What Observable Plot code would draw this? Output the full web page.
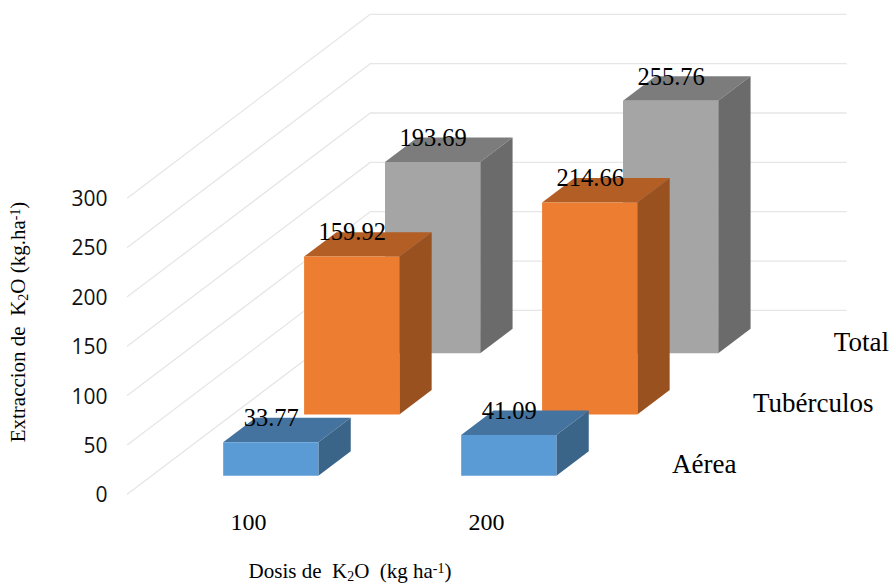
<!DOCTYPE html>
<html>
<head>
<meta charset="utf-8">
<script src="https://cdn.jsdelivr.net/npm/d3@7"></script>
<script src="https://cdn.jsdelivr.net/npm/@observablehq/plot@0.6"></script>
<style>html,body{margin:0;padding:0;background:#fff}svg{display:block}</style>
</head>
<body>
<div id="chart"></div>
<script>
// Data
const doses = ["100", "200"];
const seriesNames = ["Aérea", "Tubérculos", "Total"];
const aerea = [33.77, 41.09];
const tuberculos = [159.92, 214.66];
const total = [193.69, 255.76];
const valueTicks = [0, 50, 100, 150, 200, 250, 300];
const yTitle = "Extraccion de  K2O (kg.ha-1)";
const xTitle = "Dosis de  K2O  (kg ha-1)";

// Colours per series: front, top, side
const frontColors = ["#5b9bd5", "#ed7d31", "#a5a5a5"];
const topColors = ["#44739f", "#b25e25", "#7c7c7c"];
const sideColors = ["#3b6489", "#9a5120", "#6b6b6b"];

// Oblique projection: depth (series slots) shifts x in category units and y in value units
const depthX = 0.34, depthY = 62;
const slotCount = seriesNames.length, catCount = doses.length;
const barGap = 0.3, barSize = 0.4;
const X = (c, s) => c + s * depthX;
const Y = (v, s) => v + s * depthY;

const values = [aerea, tuberculos, total];
const faces = [];
for (let s = slotCount - 1; s >= 0; s--) {
  for (let c = 0; c < catCount; c++) {
    const v = values[s][c];
    const c0 = c + barGap, c1 = c0 + barSize, s0 = s + barGap, s1 = s0 + barSize;
    const add = (name, color, pts) => pts.forEach(([cc, ss, vv]) =>
      faces.push({id: `${s}-${c}-${name}`, color, x: X(cc, ss), y: Y(vv, ss)}));
    add("top", topColors[s], [[c0, s0, v], [c1, s0, v], [c1, s1, v], [c0, s1, v]]);
    add("side", sideColors[s], [[c1, s0, 0], [c1, s1, 0], [c1, s1, v], [c1, s0, v]]);
    add("front", frontColors[s], [[c0, s0, 0], [c1, s0, 0], [c1, s0, v], [c0, s0, v]]);
  }
}
const grid = valueTicks.flatMap(v => [
  {v, x: X(0, 0), y: Y(v, 0)},
  {v, x: X(0, slotCount), y: Y(v, slotCount)},
  {v, x: X(catCount, slotCount), y: Y(v, slotCount)}
]);
const barLabels = values.flatMap((vals, s) => vals.map((v, c) => ({
  label: v.toFixed(2), x: X(c + 0.5, s + barGap), y: Y(v, s + barGap)
})));
const slotLabels = seriesNames.map((name, s) => ({
  label: name, x: X(catCount, s + 0.5), y: Y(0, s + 0.5)
}));

const W = 891, H = 584;
const originX = 127;
const serif = "'Liberation Serif', serif";
const plot = Plot.plot({
  width: W, height: H,
  marginLeft: 107, marginBottom: 72, marginTop: 0, marginRight: 0,
  style: {background: "#fff", overflow: "visible"},
  x: {domain: [-originX / 238, (W - originX) / 238], range: [0, W], axis: null},
  y: {domain: [-(H - 493.5) / 0.987, 493.5 / 0.987], range: [H, 0], axis: null},
  color: {type: "identity"},
  marks: [
    Plot.line(grid, {x: "x", y: "y", z: "v", stroke: "#e6e6e6", strokeWidth: 1.3}),
    Plot.axisY({ticks: valueTicks, tickSize: 0, tickPadding: 0, label: null, anchor: "left", dy: 1.5,
      fontSize: 21, fontFamily: "'Open Sans', sans-serif", fill: "#111"}),
    Plot.axisX({ticks: doses.map((d, i) => i + 0.5), tickFormat: t => doses[Math.floor(t)],
      tickSize: 0, tickPadding: 0, label: null, anchor: "bottom", dx: 2,
      fontSize: 24, fontFamily: serif, fill: "#000"}),
    Plot.line(faces, {x: "x", y: "y", z: "id", fill: "color", stroke: "none"}),
    Plot.text(barLabels, {x: "x", y: "y", text: "label", dx: 0.5, dy: -24, fontSize: 24.5, fontFamily: serif, fill: "#000"}),
    Plot.text(slotLabels, {x: "x", y: "y", text: "label", dx: 28, dy: 1, textAnchor: "start",
      fontSize: 27, fontFamily: serif, fill: "#000"})
  ]
});

// Axis titles with sub/superscripts, as real text
const svg = d3.select(plot);
function rich(sel, str) {
  let restore = null;
  str.split(/(2(?=O)|-1)/).filter(p => p.length).forEach(part => {
    const ts = sel.append("tspan");
    if (part === "2") {
      ts.attr("dy", "0.2em").attr("font-size", "0.66em").text("2");
      restore = "-0.13em";
    } else if (part === "-1") {
      ts.attr("dy", "-0.4em").attr("font-size", "0.66em").text("-1");
      restore = "0.264em";
    } else {
      if (restore) ts.attr("dy", restore);
      restore = null;
      ts.text(part);
    }
  });
}
const t1 = svg.append("text").attr("transform", "translate(25,322) rotate(-90)")
  .attr("text-anchor", "middle").attr("font-family", serif).attr("font-size", 21)
  .attr("fill", "#000").style("white-space", "pre");
rich(t1, yTitle);
const t2 = svg.append("text").attr("transform", "translate(350,578)")
  .attr("text-anchor", "middle").attr("font-family", serif).attr("font-size", 21)
  .attr("fill", "#000").style("white-space", "pre");
rich(t2, xTitle);

document.getElementById("chart").appendChild(plot);
</script>
</body>
</html>
